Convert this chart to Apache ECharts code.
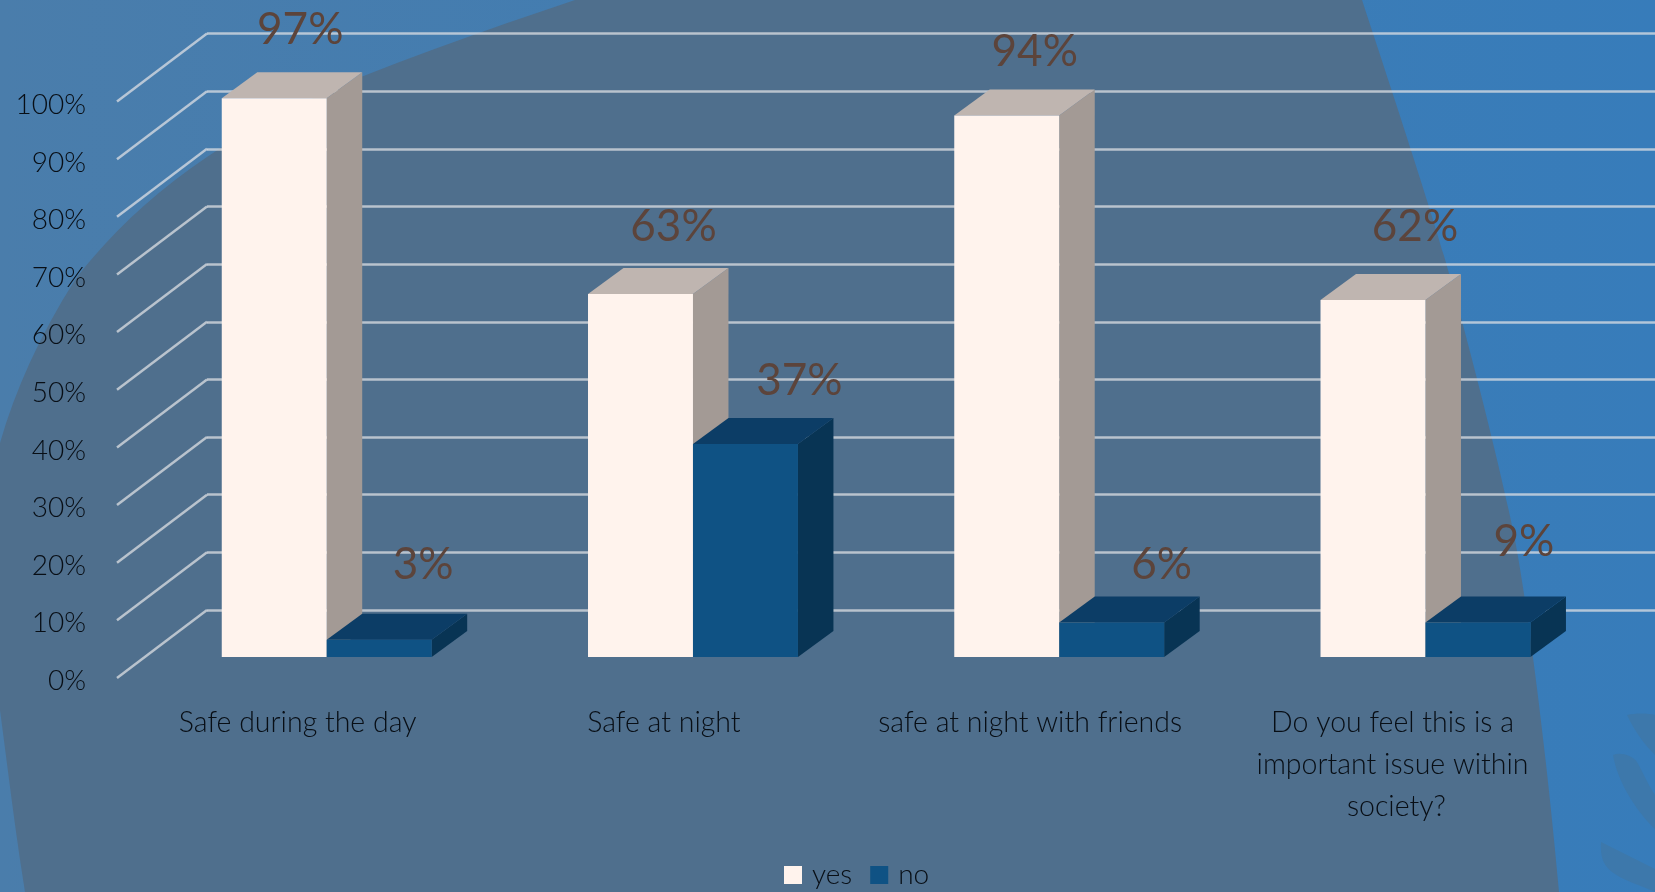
<!DOCTYPE html>
<html>
<head>
<meta charset="utf-8">
<style>html,body{margin:0;padding:0;width:100%;height:100%;overflow:hidden;background:#4a7dab}
#bg{position:absolute;left:0;top:0}
#c{position:absolute;left:0;top:0;width:1655px;height:892px}</style>
<script src="https://cdn.jsdelivr.net/npm/echarts@6/dist/echarts.min.js"></script>
</head>
<body>
<svg id="bg" width="1655" height="892" viewBox="0 0 1655 892">
  <defs><linearGradient id="g" x1="0" x2="1" y1="0" y2="0"><stop offset="0" stop-color="#4a7dab"/><stop offset="1" stop-color="#377cba"/></linearGradient></defs>
  <rect width="1655" height="892" fill="url(#g)"/>
  <path fill="#4f6f8d" d="M575,0 C500,25 430,50 361,77 C300,103 250,128 207,157 C150,195 105,240 75,280 C40,335 15,390 0,443 L0,710 C8,770 15,830 25,892 L1559,892 C1548,770 1530,620 1515,540 C1505,490 1480,385 1448,270 C1430,205 1385,70 1362,0 Z"/>
  <path fill="#3d78ab" d="M1627,715 C1635,713 1648,713 1655,715 L1655,755 C1645,745 1635,732 1627,715 Z"/>
  <path fill="#3d78ab" d="M1613,755 C1620,752 1632,755 1637,762 C1643,772 1648,785 1655,795 L1655,829 C1640,815 1618,785 1613,755 Z"/>
  <path fill="#3d78ab" d="M1601,842 L1655,869 L1655,892 C1640,885 1622,880 1612,872 C1605,866 1600,860 1601,842 Z"/>
</svg>
<div id="c"></div>
<script>
const categories = ['Safe during the day', 'Safe at night', 'safe at night with friends', 'Do you feel this is a important issue within society?'];
const yesValues = [97, 63, 94, 62];
// The last "no" column is drawn at about 6 in the reference although its printed label reads 9%.
const noValues = [3, 37, 6, 6];
const yesLabels = ['97%', '63%', '94%', '62%'];
const noLabels = ['3%', '37%', '6%', '9%'];
const yTicks = [0, 10, 20, 30, 40, 50, 60, 70, 80, 90, 100];

// label displacement from the top of its column, not data
const yesNudge = [[26, -68], [33, -67], [28, -64], [42, -73]];
const noNudge = [[44, -75], [54, -63], [50, -58], [46, -81]];

const FONT = 'Lato, "Noto Sans", sans-serif';
const DX = 35.5, DY = 26, WALL_DX = 90, WALL_DY = 68;
const TEXT = '#080e15';

function column(colors, side, labels, nudge) {
  return function (params, api) {
    const i = api.value(0), v = api.value(1);
    const band = api.size([1, 0])[0];
    const w = band * 0.2866;
    const c = api.coord([i, v]);
    const base = api.coord([i, 0]);
    const x0 = side < 0 ? c[0] - w : c[0];
    const x1 = x0 + w;
    const top = c[1], bot = base[1];
    const children = [
      { type: 'polygon', shape: { points: [[x1, top], [x1 + DX, top - DY], [x1 + DX, bot - DY], [x1, bot]] }, style: { fill: colors.side } },
      { type: 'polygon', shape: { points: [[x0, top], [x0 + DX, top - DY], [x1 + DX, top - DY], [x1, top]] }, style: { fill: colors.top } },
      { type: 'rect', shape: { x: x0, y: top, width: w, height: bot - top }, style: { fill: colors.front } },
      { type: 'text', z2: 50, style: { text: labels[i], x: (x0 + x1) / 2 + nudge[i][0], y: top + nudge[i][1], align: 'center', verticalAlign: 'middle', fill: '#5c443b', font: '400 44px ' + FONT } }
    ];
    return { type: 'group', children };
  };
}

const yesData = yesValues.map((v, i) => [i, v]);
const noData = noValues.map((v, i) => [i, v]);
const YES = { front: '#fff3ed', side: '#a39a95', top: '#bfb5b0' };
const NO = { front: '#0f5284', side: '#083454', top: '#0c3d66' };

const chart = echarts.init(document.getElementById('c'), null, { renderer: 'canvas', width: 1655, height: 892 });
chart.setOption({
  animation: false,
  backgroundColor: 'transparent',
  legend: {
    data: ['yes', 'no'], left: 784, top: 861, padding: 0, icon: 'rect', itemWidth: 18, itemHeight: 18, itemGap: 18,
    textStyle: { color: TEXT, fontFamily: FONT, fontWeight: 300, fontSize: 28, padding: [2, 0, 0, 5] }
  },
  grid: [
    { left: 207, top: 33.5, width: 1448, height: 576.5, outerBoundsMode: 'none' },
    { left: 114.5, top: 105, width: 1465, height: 576, outerBoundsMode: 'none' },
    { left: 143.6, top: 81, width: 1465, height: 576, outerBoundsMode: 'none' }
  ],
  xAxis: [
    { gridIndex: 0, type: 'category', data: categories, show: false },
    { gridIndex: 1, type: 'category', data: categories, axisLine: { show: false }, axisTick: { show: false },
      axisLabel: { interval: 0, margin: 21, color: TEXT, fontFamily: FONT, fontWeight: 300, fontSize: 28.5, lineHeight: 42, width: 325, overflow: 'break', verticalAlign: 'top' } },
    { gridIndex: 2, type: 'category', data: categories, show: false }
  ],
  yAxis: [
    { gridIndex: 0, type: 'value', min: 0, max: 100, interval: 10, axisLine: { show: false }, axisTick: { show: false }, axisLabel: { show: false },
      splitLine: { show: true, lineStyle: { color: 'rgba(222,224,228,0.74)', width: 2.5 } } },
    { gridIndex: 1, type: 'value', min: 0, max: 100, interval: 10, axisLine: { show: false }, axisTick: { show: false }, splitLine: { show: false },
      axisLabel: { margin: 28.5, color: TEXT, fontFamily: FONT, fontWeight: 300, fontSize: 28, formatter: '{value}%' } },
    { gridIndex: 2, type: 'value', min: 0, max: 100, interval: 10, show: false, splitLine: { show: false } }
  ],
  series: [
    { name: 'wall', type: 'custom', xAxisIndex: 0, yAxisIndex: 0, clip: false, silent: true,
      data: yTicks.map(v => [0, v]),
      renderItem: function (params, api) {
        const y = api.coord([0, api.value(1)])[1];
        const x = params.coordSys.x;
        return { type: 'line', shape: { x1: x - WALL_DX, y1: y + WALL_DY, x2: x, y2: y }, style: { stroke: 'rgba(222,224,228,0.74)', lineWidth: 2.5 } };
      } },
    { name: 'yes', type: 'custom', xAxisIndex: 2, yAxisIndex: 2, clip: false, itemStyle: { color: YES.front }, data: yesData, renderItem: column(YES, -1, yesLabels, yesNudge) },
    { name: 'no', type: 'custom', xAxisIndex: 2, yAxisIndex: 2, clip: false, itemStyle: { color: NO.front }, data: noData, renderItem: column(NO, 1, noLabels, noNudge) }
  ]
});
</script>
</body>
</html>
